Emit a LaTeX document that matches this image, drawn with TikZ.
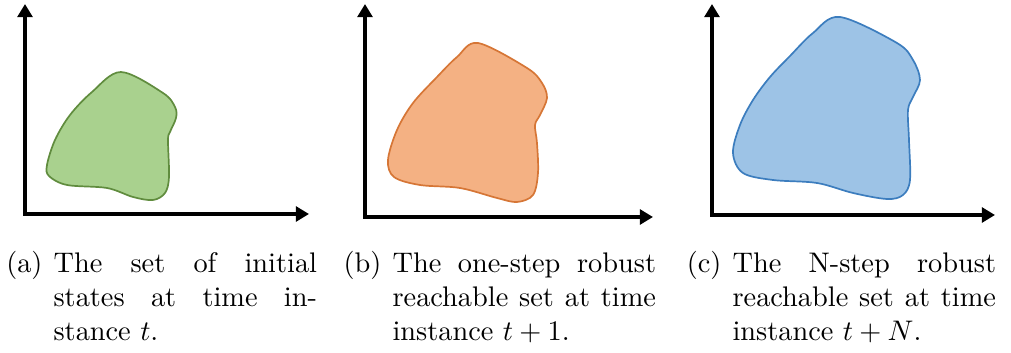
\documentclass[tikz,border=0pt]{standalone}
\usepackage{amsmath}
\usetikzlibrary{arrows.meta,positioning}
\definecolor{setgreen}{RGB}{169,209,142}
\definecolor{setgreenD}{RGB}{96,140,62}
\definecolor{setorange}{RGB}{244,177,131}
\definecolor{setorangeD}{RGB}{214,118,54}
\definecolor{setblue}{RGB}{157,195,230}
\definecolor{setblueD}{RGB}{60,125,190}
\tolerance=10000
\tikzset{
    axis/.style={line width=1.6pt, black, {Triangle[length=4.6pt,width=5.2pt]}-{Triangle[length=4.6pt,width=5.2pt]}},
    setG/.style={draw=setgreenD, fill=setgreen, line width=0.6pt},
    setO/.style={draw=setorangeD, fill=setorange, line width=0.6pt},
    setB/.style={draw=setblueD, fill=setblue, line width=0.6pt},
    caplabel/.style={inner sep=0pt, anchor=base east},
    captext/.style={inner sep=0pt, text width=93pt, align=justify, anchor=base west},
}

\begin{document}
\begin{tikzpicture}[x=0.01241cm, y=-0.01241cm]
    \useasboundingbox (0,0) rectangle (1011,353);

    % (a) initial states
    \coordinate (ya) at (25,4);
    \coordinate (xa) at (309,214);
    \draw[axis] (ya) |- (xa);
    \draw[setG] plot[smooth cycle, tension=0.55] coordinates {
        (121,72) (163,93) (175,107) (176,118) (170,132) (168,140)
        (169,177) (165,193) (153,200) (133,197) (107,188) (67,185) (49,176)
        (47,165) (55,140) (70,115) (92,92)};
    \node[captext] (txtA) at (53,273) {The set of initial\linebreak states at time in-\linebreak stance $t$.};
    \node[caplabel, left=3.5pt of txtA.base west, anchor=base east] (labA) {(a)};

    % (b) one-step reachable set
    \coordinate (yb) at (365,4);
    \coordinate (xb) at (653,217);
    \draw[axis] (yb) |- (xb);
    \draw[setO] plot[smooth cycle, tension=0.55] coordinates {
        (478,43) (527,68) (542,83) (547,98) (540,115)
        (535,125) (537,143) (538,173) (533,195) (517,202) (497,198)
        (460,188) (420,185) (394,177) (388,160) (397,130) (413,103)
        (437,77) (457,57)};
    \node[captext] (txtB) at (392,273) {The one-step robust\linebreak reachable set at time\linebreak instance $t+1$.};
    \node[caplabel, left=3.5pt of txtB.base west, anchor=base east] (labB) {(b)};

    % (c) N-step reachable set
    \coordinate (yc) at (712,4);
    \coordinate (xc) at (995,215);
    \draw[axis] (yc) |- (xc);
    \draw[setB] plot[smooth cycle, tension=0.55] coordinates {
        (840,17) (897,43) (913,60) (920,80) (913,97)
        (908,110) (909,140) (910,180) (903,195) (887,199) (853,193)
        (817,183) (773,180) (743,173) (733,153) (740,125) (753,100)
        (770,77) (790,56) (813,33)};
    \node[captext] (txtC) at (732,273) {The N-step robust\linebreak reachable set at time\linebreak instance $t+N$.};
    \node[caplabel, left=3.5pt of txtC.base west, anchor=base east] (labC) {(c)};
\end{tikzpicture}
\end{document}
